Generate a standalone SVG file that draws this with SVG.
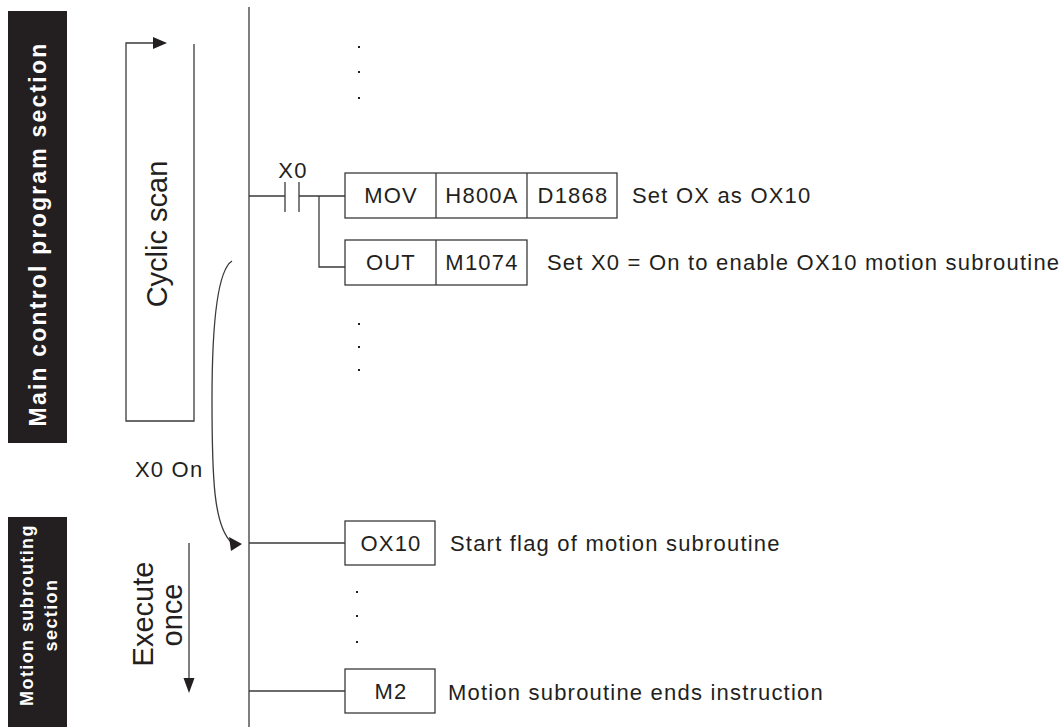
<svg xmlns="http://www.w3.org/2000/svg" width="1061" height="727" viewBox="0 0 1061 727">
<style>
.t{font-family:"Liberation Sans",Arial,sans-serif;font-size:22px;letter-spacing:1.2px;fill:#231f20}
.c{text-anchor:middle}
.big{font-family:"Liberation Sans",Arial,sans-serif;font-size:29px;fill:#231f20;text-anchor:middle}
.wb{font-family:"Liberation Sans",Arial,sans-serif;font-weight:bold;fill:#ffffff;text-anchor:middle}
.box{fill:#ffffff;stroke:#3a3a3a;stroke-width:1.3}
.ln{fill:none;stroke:#3a3a3a;stroke-width:1.3}
.ah{fill:#231f20}
.dot{fill:#231f20}
</style>
<rect width="1061" height="727" fill="#ffffff"/>

<g id="section-main">
<rect x="8" y="11" width="59" height="432" fill="#231f20"/>
<text class="wb" font-size="23" letter-spacing="2.2" transform="translate(46,234) rotate(-90)">Main control program section</text>
</g>
<g id="section-motion">
<rect x="8" y="517" width="59" height="210" fill="#231f20"/>
<text class="wb" font-size="18" letter-spacing="1.4" transform="translate(33,615) rotate(-90)">Motion subrouting</text>
<text class="wb" font-size="18" letter-spacing="1.4" transform="translate(57,615) rotate(-90)">section</text>
</g>

<g id="cyclic-scan">
<path class="ln" d="M194,44 V421 H126 V43 H155"/>
<polygon class="ah" points="167,43 153,37 153,49"/>
<text class="big" transform="translate(167,234) rotate(-90)">Cyclic scan</text>
</g>

<g id="execute-once">
<line class="ln" x1="189" y1="543" x2="189" y2="682"/>
<polygon class="ah" points="189,693 183.5,678 194.5,678"/>
<text class="big" transform="translate(153,614) rotate(-90)">Execute</text>
<text class="big" transform="translate(182,615) rotate(-90)">once</text>
</g>

<g id="x0-on-label">
<text class="t" x="135" y="477">X0 On</text>
</g>

<g id="connectors">
<line class="ln" x1="249" y1="7" x2="249" y2="727"/>
<path class="ln" d="M249,196 H285 M299,196 H345 M319,196 V267 H345"/>
<line class="ln" x1="249" y1="543" x2="345" y2="543"/>
<line class="ln" x1="249" y1="691" x2="345" y2="691"/>
<path class="ln" d="M232,261 C218,270 212,320 212,400 C212,480 214,525 231,542"/>
<polygon class="ah" points="242,544 229,537 231,551"/>
</g>

<g id="contact-x0">
<line class="ln" x1="285" y1="182" x2="285" y2="212"/>
<line class="ln" x1="299" y1="182" x2="299" y2="212"/>
<text class="t c" x="293" y="178">X0</text>
</g>

<g id="mov-instr">
<rect class="box" x="345" y="173" width="272" height="45"/>
<line class="ln" x1="436" y1="173" x2="436" y2="218"/>
<line class="ln" x1="527" y1="173" x2="527" y2="218"/>
<text class="t c" x="391" y="203">MOV</text>
<text class="t c" x="482" y="203">H800A</text>
<text class="t c" x="573" y="203">D1868</text>
<text class="t" x="632" y="203">Set OX as OX10</text>
</g>

<g id="out-instr">
<rect class="box" x="345" y="240" width="182" height="45"/>
<line class="ln" x1="436" y1="240" x2="436" y2="285"/>
<text class="t c" x="391" y="270">OUT</text>
<text class="t c" x="482" y="270">M1074</text>
<text class="t" x="547" y="270">Set X0 = On to enable OX10 motion subroutine</text>
</g>

<g id="ox10">
<rect class="box" x="345" y="521" width="90" height="44"/>
<text class="t c" x="391" y="551">OX10</text>
<text class="t" x="450" y="551">Start flag of motion subroutine</text>
</g>

<g id="m2">
<rect class="box" x="345" y="669" width="90" height="44"/>
<text class="t c" x="391" y="699">M2</text>
<text class="t" x="448" y="700">Motion subroutine ends instruction</text>
</g>

<g id="dots">
<rect class="dot" x="358" y="46" width="2" height="2"/>
<rect class="dot" x="358" y="71" width="2" height="2"/>
<rect class="dot" x="358" y="97" width="2" height="2"/>
<rect class="dot" x="358" y="323" width="2" height="2"/>
<rect class="dot" x="358" y="346" width="2" height="2"/>
<rect class="dot" x="358" y="369" width="2" height="2"/>
<rect class="dot" x="356" y="591" width="2" height="2"/>
<rect class="dot" x="356" y="615" width="2" height="2"/>
<rect class="dot" x="356" y="641" width="2" height="2"/>
</g>
</svg>
